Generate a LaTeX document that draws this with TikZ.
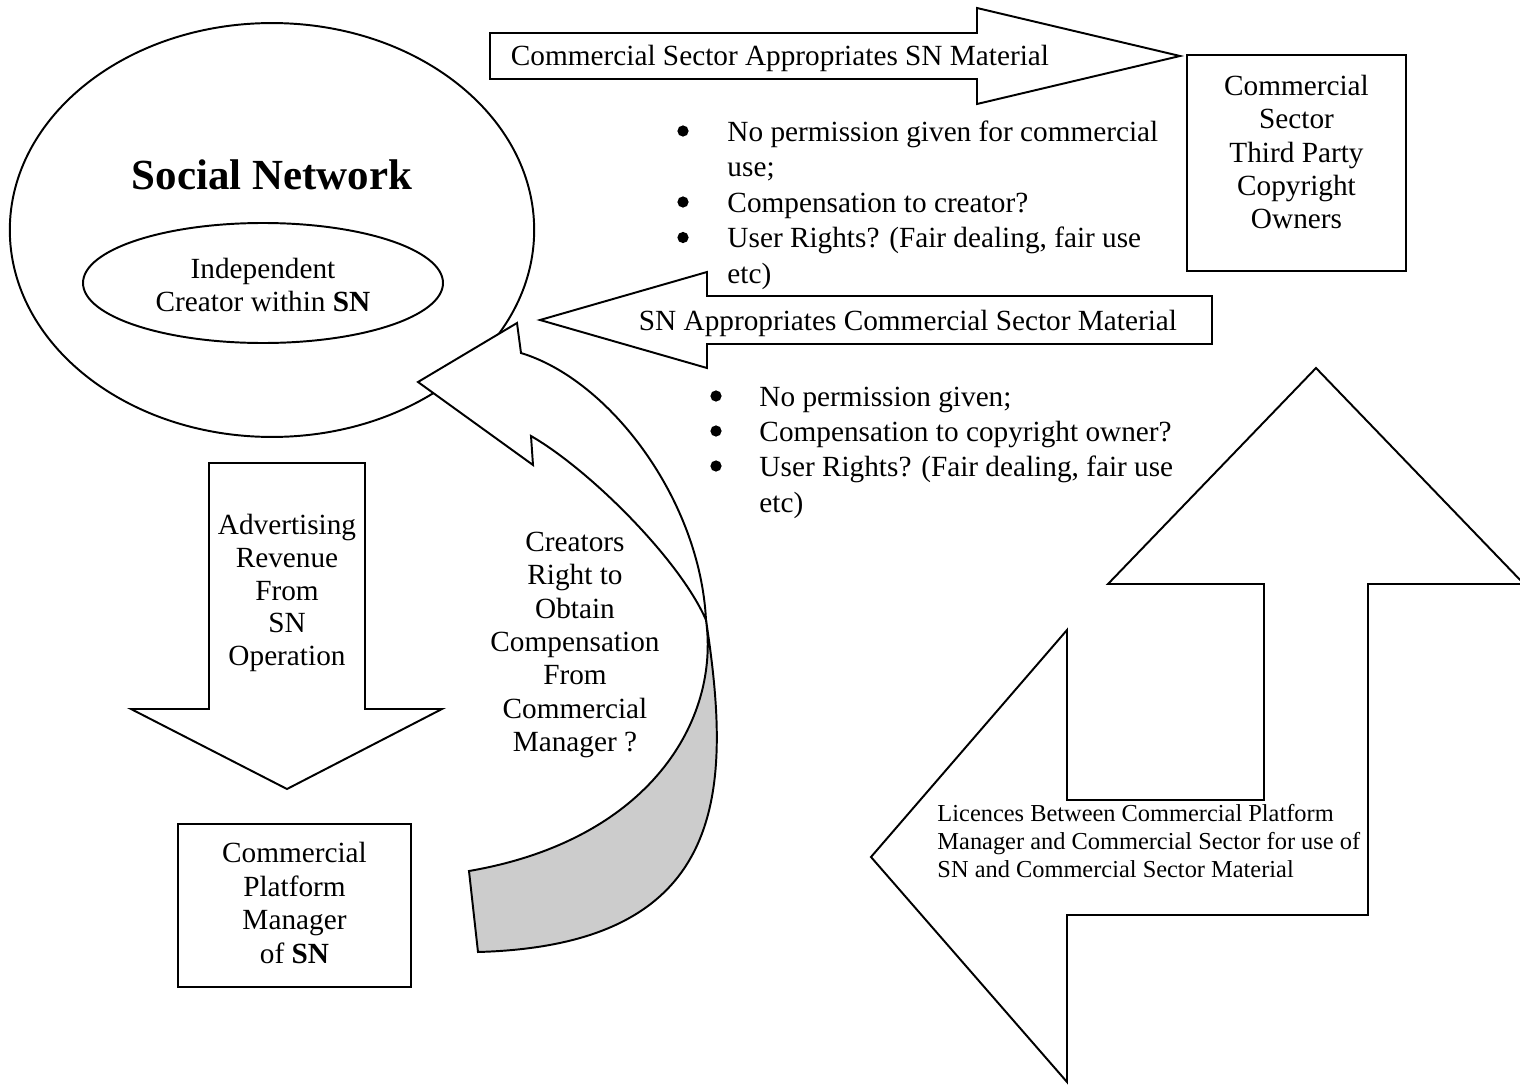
\documentclass[tikz,border=0pt]{standalone}
\usepackage{fontspec}
\setmainfont{Liberation Serif}
\usetikzlibrary{shapes.geometric}
\begin{document}
\begin{tikzpicture}[x=0.41pt,y=-0.41pt,
  shp/.style={draw=black,line width=0.8pt,fill=white,line join=miter},
  back/.style={draw=black,line width=0.8pt,fill=black!20,line join=miter},
  txt/.style={inner sep=0pt,align=center,font=\fontsize{12}{#1}\selectfont},
  txt/.default=13.7,
  ltxt/.style={inner sep=0pt,font=\fontsize{12}{14}\selectfont,anchor=base west},
  bul/.style={inner sep=0pt,font=\fontsize{12}{14}\selectfont,anchor=base},
  dot/.style={circle,fill=black,inner sep=0pt,minimum size=4.6pt},
  small/.style={inner sep=0pt,font=\fontsize{10}{11.5}\selectfont,anchor=base west}]
\useasboundingbox (0,0) rectangle (1520,1086);
\fill[white] (0,0) rectangle (1520,1086);

% Social network ellipses
\node[shp,ellipse,minimum width=215pt,minimum height=169.7pt,inner sep=0pt] (sn) at (272,230) {};
\node[inner sep=0pt,font=\fontsize{17.6}{20}\selectfont\bfseries] (sntitle) at (272,175) {Social Network};
\node[shp,ellipse,minimum width=147.6pt,minimum height=49.2pt,inner sep=0pt] (creator) at (263,283) {};
\node[txt=13.9] (creatortext) at (263,285) {Independent\\Creator within \textbf{SN}};

% top arrow
\draw[shp] (490,33) -- (977,33) -- (977,8) -- (1180,56) -- (977,104) -- (977,79) -- (490,79) -- cycle;
\node[bul] (toptext) at (780,66) {Commercial Sector Appropriates SN Material};

% commercial sector box
\node[shp,minimum width=89.8pt,minimum height=88.6pt,inner sep=0pt] (cs) at (1296.5,163) {};
\node[txt=13.65] (cstext) at (1296.5,152) {Commercial\\Sector\\Third Party\\Copyright\\Owners};

% list 1
\node[dot] (b1a) at (683,131) {};
\node[ltxt] (l1a) at (727,141) {No permission given for commercial};
\node[ltxt] (l1b) at (727,176.5) {use;};
\node[dot] (b1c) at (683,202) {};
\node[ltxt] (l1c) at (727,212) {Compensation to creator?};
\node[dot] (b1d) at (683,237.5) {};
\node[ltxt] (l1d) at (727,247.5) {User Rights? (Fair dealing, fair use};
\node[ltxt] (l1e) at (727,283) {etc)};

% SN appropriates arrow
\draw[shp] (1212,296) -- (707,296) -- (707,272) -- (540,320) -- (707,368) -- (707,344) -- (1212,344) -- cycle;
\node[bul] (sntext) at (908,330) {SN Appropriates Commercial Sector Material};

% list 2
\node[dot] (b2a) at (716,396) {};
\node[ltxt] (l2a) at (759,406) {No permission given;};
\node[dot] (b2b) at (716,431) {};
\node[ltxt] (l2b) at (759,441) {Compensation to copyright owner?};
\node[dot] (b2c) at (716,466) {};
\node[ltxt] (l2c) at (759,476) {User Rights? (Fair dealing, fair use};
\node[ltxt] (l2d) at (759,512) {etc)};

% down arrow
\draw[shp] (209,463) -- (365,463) -- (365,709) -- (442,709) -- (287,789) -- (131,709) -- (209,709) -- cycle;
\node[txt=13.4] (advtext) at (287,593) {Advertising\\Revenue\\From\\SN\\Operation};

% platform manager box
\node[shp,minimum width=95.5pt,minimum height=66.8pt,inner sep=0pt] (cpm) at (294.5,905.5) {};
\node[txt=13.8] (cpmtext) at (294.5,903) {Commercial\\Platform\\Manager\\of \textbf{SN}};

% curved arrow
\draw[back] (706,620) .. controls (732,790) and (730,945) .. (478,952) -- (469,871) .. controls (650,840) and (720,720) .. (706,620) -- cycle;
\draw[shp] (418,382) -- (517,323) -- (521,353) .. controls (610,380) and (700,500) .. (706,620) .. controls (680,560) and (590,470) .. (531,436) -- (533,465) -- cycle;
\node[txt=13.7] (crtext) at (575,645) {Creators\\Right to\\Obtain\\Compensation\\From\\Commercial\\Manager ?};

% left-up arrow
\draw[shp] (1316,368) -- (1524,584) -- (1368,584) -- (1368,915) -- (1067,915) -- (1067,1082) -- (871,857) -- (1067,630) -- (1067,800) -- (1264,800) -- (1264,584) -- (1108,584) -- cycle;
\node[small] (lic1) at (937,821) {Licences Between Commercial Platform};
\node[small] (lic2) at (937,849) {Manager and Commercial Sector for use of};
\node[small] (lic3) at (937,877) {SN and Commercial Sector Material};
\end{tikzpicture}
\end{document}
